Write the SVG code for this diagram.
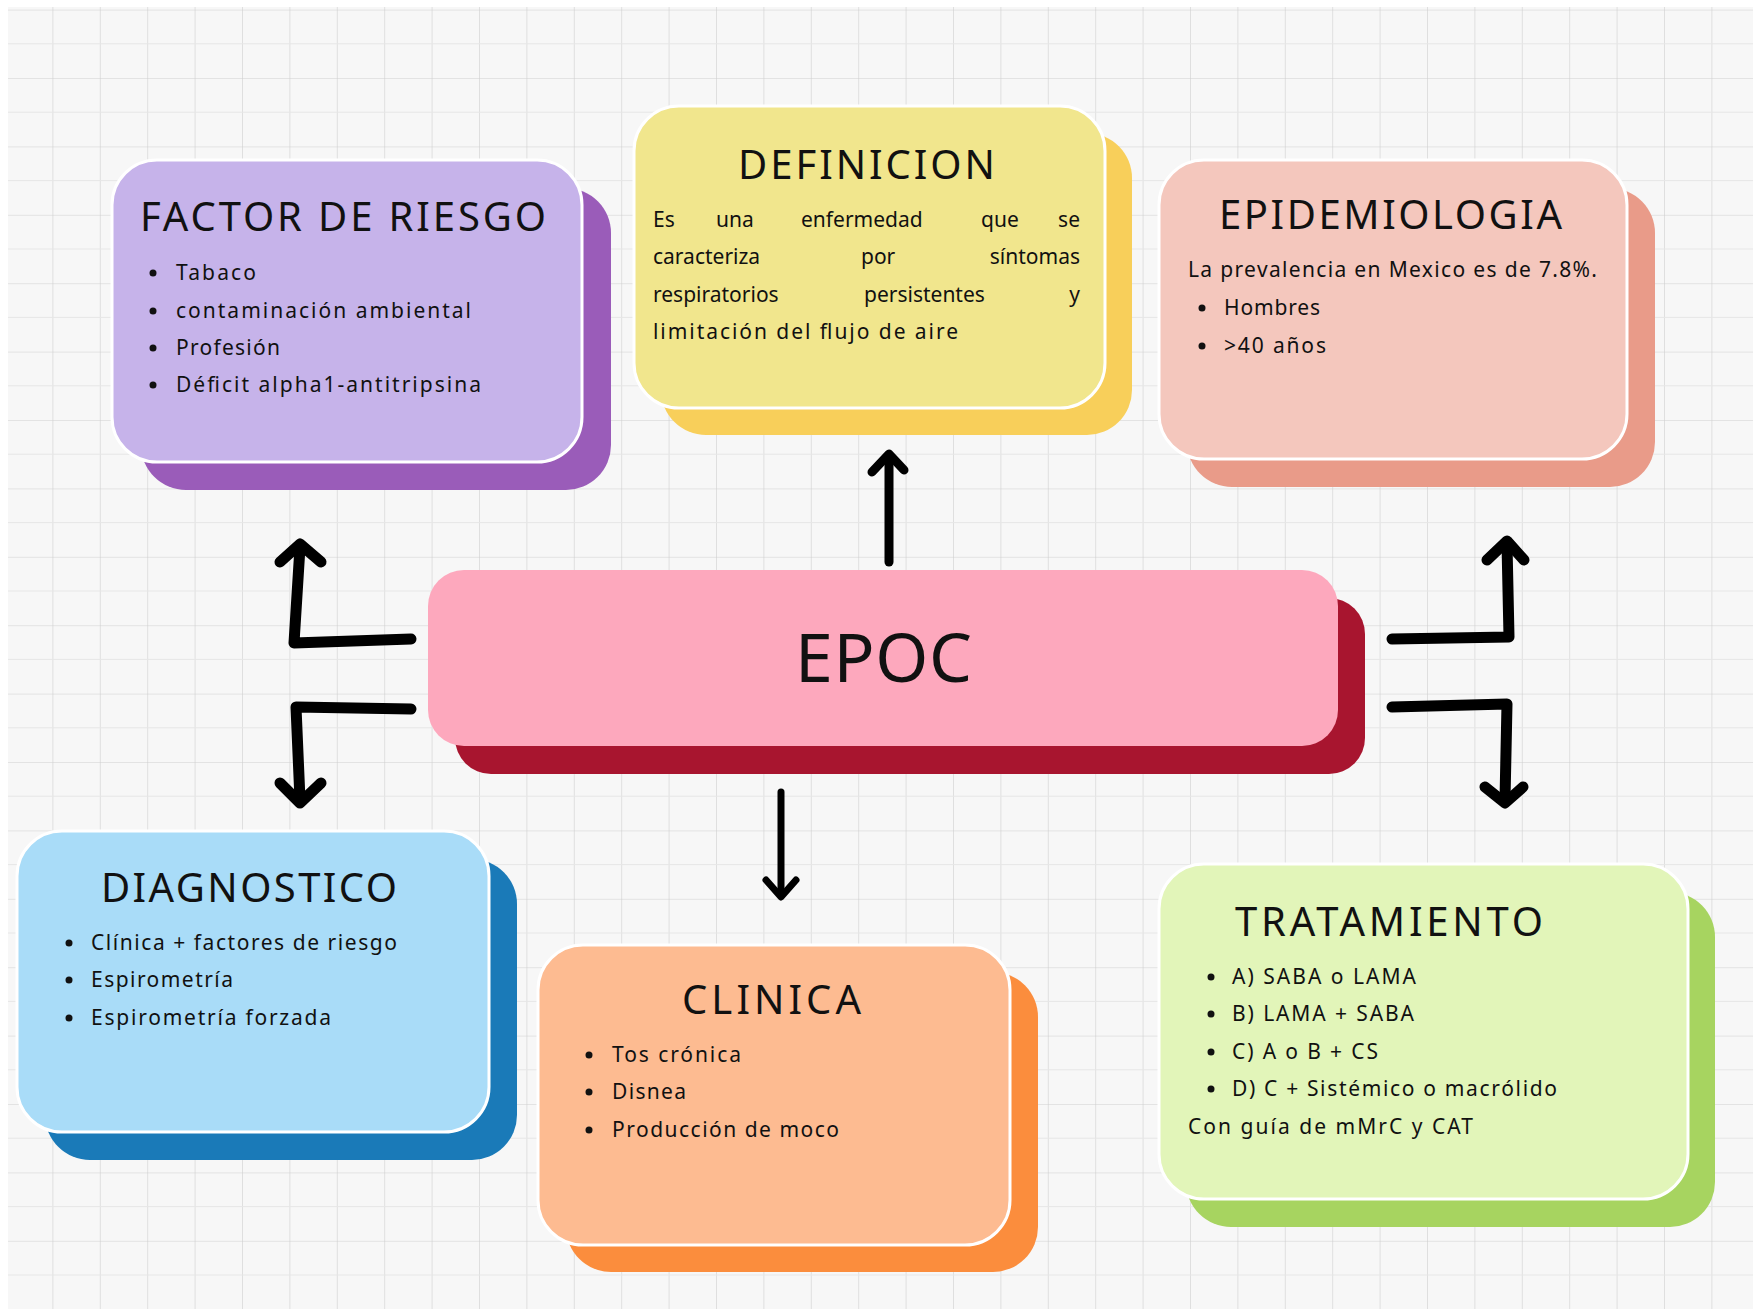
<svg xmlns="http://www.w3.org/2000/svg" width="1753" height="1309" viewBox="0 0 1753 1309">
<defs>
<pattern id="grid" x="5" y="9.6" width="47.4" height="68.4" patternUnits="userSpaceOnUse">
<path d="M0 0H47.4M0 0V68.4" fill="none" stroke="#cfcfcf" stroke-width="1.2"/>
<path d="M0 34.2H47.4" fill="none" stroke="#e6e6e6" stroke-width="1"/>
</pattern>
<style>
.front{stroke:#ffffff;stroke-width:3}
.title{font-family:"Noto Sans","Open Sans","Liberation Sans",sans-serif;font-size:40px;fill:#111;}
.body{font-family:"Noto Sans","Open Sans","Liberation Sans",sans-serif;font-size:21px;fill:#111;}
.dot{fill:#111}
.arrow{fill:none;stroke:#000;stroke-linecap:round;stroke-linejoin:round}
</style>
</defs>
<rect x="0" y="0" width="1753" height="1309" fill="#ffffff"/>
<rect x="8" y="7" width="1745" height="1302" fill="#f7f7f7"/>
<rect x="8" y="7" width="1745" height="1302" fill="url(#grid)"/>

<g id="connectors">
<path class="arrow" stroke-width="11" d="M411 639 L294 643 L300 547"/>
<path class="arrow" stroke-width="11" d="M280 562 L300 544 L321 562"/>
<path class="arrow" stroke-width="11" d="M411 709 L296 707 L300 800"/>
<path class="arrow" stroke-width="11" d="M280 783 L300 803 L321 783"/>
<path class="arrow" stroke-width="9" d="M889 562 L889 456"/>
<path class="arrow" stroke-width="9" d="M872 472 L889 454 L904 470"/>
<path class="arrow" stroke-width="7" d="M781 792 L781 895"/>
<path class="arrow" stroke-width="7" d="M766 880 L781 897 L796 880"/>
<path class="arrow" stroke-width="11" d="M1392 639 L1509 637 L1507 544"/>
<path class="arrow" stroke-width="11" d="M1487 560 L1507 541 L1524 560"/>
<path class="arrow" stroke-width="11" d="M1392 707 L1507 704 L1505 800"/>
<path class="arrow" stroke-width="11" d="M1485 787 L1505 803 L1523 787"/>
</g>

<g id="node-factor">
<rect x="141" y="188" width="470" height="302" rx="45" fill="#9a5cb9"/>
<rect class="front" x="112" y="160" width="470" height="302" rx="45" fill="#c6b3ea"/>
<text class="title" x="140" y="231" textLength="406" lengthAdjust="spacing">FACTOR DE RIESGO</text>
<circle class="dot" cx="153" cy="273" r="3.5"/>
<text class="body" x="176" y="280" textLength="80" lengthAdjust="spacing">Tabaco</text>
<circle class="dot" cx="153" cy="311" r="3.5"/>
<text class="body" x="176" y="318" textLength="295" lengthAdjust="spacing">contaminación ambiental</text>
<circle class="dot" cx="153" cy="348" r="3.5"/>
<text class="body" x="176" y="355" textLength="104" lengthAdjust="spacing">Profesión</text>
<circle class="dot" cx="153" cy="385" r="3.5"/>
<text class="body" x="176" y="392" textLength="305" lengthAdjust="spacing">Déficit alpha1-antitripsina</text>
</g>

<g id="node-definicion">
<rect x="661" y="133" width="471" height="302" rx="45" fill="#f8cf5a"/>
<rect class="front" x="634" y="106" width="471" height="302" rx="45" fill="#f1e68d"/>
<text class="title" x="738" y="179" textLength="257" lengthAdjust="spacing">DEFINICION</text>
<text class="body" x="653" y="227">Es</text>
<text class="body" x="716" y="227">una</text>
<text class="body" x="801" y="227">enfermedad</text>
<text class="body" x="981" y="227">que</text>
<text class="body" x="1080" y="227" text-anchor="end">se</text>
<text class="body" x="653" y="264">caracteriza</text>
<text class="body" x="861" y="264">por</text>
<text class="body" x="1080" y="264" text-anchor="end">síntomas</text>
<text class="body" x="653" y="302">respiratorios</text>
<text class="body" x="864" y="302">persistentes</text>
<text class="body" x="1080" y="302" text-anchor="end">y</text>
<text class="body" x="653" y="339" textLength="305" lengthAdjust="spacing">limitación del flujo de aire</text>
</g>

<g id="node-epidemiologia">
<rect x="1187" y="188" width="468" height="299" rx="45" fill="#e99b89"/>
<rect class="front" x="1159" y="160" width="468" height="299" rx="45" fill="#f4c7bd"/>
<text class="title" x="1219" y="229" textLength="343" lengthAdjust="spacing">EPIDEMIOLOGIA</text>
<text class="body" x="1188" y="277" textLength="409" lengthAdjust="spacing">La prevalencia en Mexico es de 7.8%.</text>
<circle class="dot" cx="1202" cy="308" r="3.5"/>
<text class="body" x="1224" y="315" textLength="96" lengthAdjust="spacing">Hombres</text>
<circle class="dot" cx="1202" cy="346" r="3.5"/>
<text class="body" x="1224" y="353" textLength="102" lengthAdjust="spacing">&gt;40 años</text>
</g>

<g id="node-epoc">
<rect x="455" y="598" width="910" height="176" rx="36" fill="#a8152f"/>
<rect x="428" y="570" width="910" height="176" rx="36" fill="#fda8bd"/>
<text x="795" y="682" font-family="Noto Sans, Open Sans, Liberation Sans, sans-serif" font-size="68" font-weight="400" fill="#111" textLength="177" lengthAdjust="spacing">EPOC</text>
</g>

<g id="node-diagnostico">
<rect x="45" y="859" width="472" height="301" rx="45" fill="#1a7ab8"/>
<rect class="front" x="17" y="831" width="472" height="301" rx="45" fill="#a9dcf8"/>
<text class="title" x="101" y="902" textLength="296" lengthAdjust="spacing">DIAGNOSTICO</text>
<circle class="dot" cx="69" cy="943" r="3.5"/>
<text class="body" x="91" y="950" textLength="306" lengthAdjust="spacing">Clínica + factores de riesgo</text>
<circle class="dot" cx="69" cy="980" r="3.5"/>
<text class="body" x="91" y="987" textLength="142" lengthAdjust="spacing">Espirometría</text>
<circle class="dot" cx="69" cy="1018" r="3.5"/>
<text class="body" x="91" y="1025" textLength="240" lengthAdjust="spacing">Espirometría forzada</text>
</g>

<g id="node-clinica">
<rect x="566" y="972" width="472" height="300" rx="45" fill="#fb8d3d"/>
<rect class="front" x="538" y="945" width="472" height="300" rx="45" fill="#fdbb91"/>
<text class="title" x="682" y="1014" textLength="179" lengthAdjust="spacing">CLINICA</text>
<circle class="dot" cx="589" cy="1055" r="3.5"/>
<text class="body" x="612" y="1062" textLength="129" lengthAdjust="spacing">Tos crónica</text>
<circle class="dot" cx="589" cy="1092" r="3.5"/>
<text class="body" x="612" y="1099" textLength="74" lengthAdjust="spacing">Disnea</text>
<circle class="dot" cx="589" cy="1130" r="3.5"/>
<text class="body" x="612" y="1137" textLength="227" lengthAdjust="spacing">Producción de moco</text>
</g>

<g id="node-tratamiento">
<rect x="1186" y="892" width="529" height="335" rx="45" fill="#a7d460"/>
<rect class="front" x="1159" y="864" width="529" height="335" rx="45" fill="#e2f5b9"/>
<text class="title" x="1235" y="936" textLength="308" lengthAdjust="spacing">TRATAMIENTO</text>
<circle class="dot" cx="1211" cy="977" r="3.5"/>
<text class="body" x="1232" y="984" textLength="184" lengthAdjust="spacing">A) SABA o LAMA</text>
<circle class="dot" cx="1211" cy="1014" r="3.5"/>
<text class="body" x="1232" y="1021" textLength="182" lengthAdjust="spacing">B) LAMA + SABA</text>
<circle class="dot" cx="1211" cy="1052" r="3.5"/>
<text class="body" x="1232" y="1059" textLength="146" lengthAdjust="spacing">C) A o B + CS</text>
<circle class="dot" cx="1211" cy="1089" r="3.5"/>
<text class="body" x="1232" y="1096" textLength="325" lengthAdjust="spacing">D) C + Sistémico o macrólido</text>
<text class="body" x="1188" y="1134" textLength="285" lengthAdjust="spacing">Con guía de mMrC y CAT</text>
</g>
</svg>
